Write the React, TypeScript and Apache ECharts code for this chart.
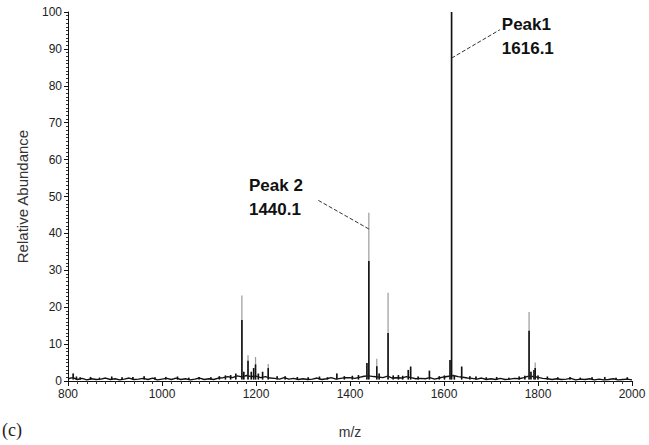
import React, { useEffect, useRef } from "react";
import * as echarts from "echarts";

// m/z grid of the baseline noise (step 10) and its values
const noiseStart = 800;
const noiseStep = 10;
const noiseValues = [
  0.6, 0.9, 0.4, 0.7, 0.3, 0.6, 0.4, 0.5, 0.8, 0.4,
  0.6, 0.3, 0.5, 0.8, 0.4, 0.5, 0.7, 0.4, 0.8, 0.3,
  0.5, 0.7, 0.4, 0.8, 0.4, 0.6, 0.3, 0.5, 0.8, 0.4,
  0.6, 0.4, 0.8, 0.9, 1.2, 0.9, 1.4, 1.1, 1.5, 1.2,
  1.3, 0.9, 1.2, 0.8, 0.7, 0.5, 0.9, 0.5, 0.7, 0.4,
  0.6, 0.4, 0.5, 0.8, 0.4, 0.6, 0.9, 0.5, 0.7, 0.9,
  0.9, 0.7, 1.0, 1.3, 1.4, 1.2, 1.1, 0.9, 1.3, 0.8,
  0.9, 0.8, 1.2, 0.9, 0.6, 0.7, 0.6, 0.9, 0.5, 0.8,
  1.1, 1.3, 1.5, 1.2, 1.0, 0.8, 0.7, 0.5, 0.8, 0.4,
  0.6, 0.4, 0.7, 0.4, 0.5, 0.7, 0.6, 0.9, 1.3, 1.2,
  1.0, 0.7, 0.6, 0.4, 0.6, 0.4, 0.5, 0.7, 0.3, 0.5,
  0.4, 0.6, 0.3, 0.5, 0.3, 0.4, 0.6, 0.3, 0.4, 0.5, 0.3,
];

// peaks: m/z, full (grey tip) height, dark-part height
const peakMz = [
  811, 1135, 1157, 1170, 1174, 1183, 1190, 1195, 1199, 1205, 1214, 1226, 1245,
  1372, 1436, 1440.1, 1457, 1462, 1481, 1503, 1524, 1529, 1569, 1612.8, 1616.1,
  1622, 1637.6, 1655, 1781, 1785, 1791.5, 1794, 1800,
];
const peakFull = [
  2.0, 1.5, 2.0, 23.2, 2.5, 7.0, 2.5, 3.5, 6.5, 2.0, 2.5, 4.6, 1.3,
  2.0, 4.9, 45.6, 6.0, 2.0, 23.9, 1.6, 3.0, 3.9, 2.8, 5.7, 100,
  1.5, 3.9, 1.3, 18.7, 2.5, 3.0, 5.0, 1.5,
];
const peakDark = [
  2.0, 1.5, 2.0, 16.5, 2.5, 5.5, 2.5, 3.5, 4.5, 2.0, 2.5, 3.5, 1.3,
  2.0, 4.9, 32.5, 4.0, 2.0, 13.0, 1.6, 3.0, 3.9, 2.8, 5.7, 100,
  1.5, 3.9, 1.3, 13.6, 2.5, 3.0, 3.5, 1.5,
];

// small noise spikes on the baseline: m/z and height
const spikeMz = [
  818, 826, 848, 867, 893, 915, 938, 962, 985, 1008, 1033, 1057, 1079, 1104,
  1122, 1146, 1262, 1288, 1311, 1335, 1352, 1388, 1405, 1418, 1492, 1512,
  1545, 1590, 1601, 1668, 1690, 1712, 1738, 1760, 1772, 1820, 1842, 1868,
  1890, 1915, 1942, 1966, 1990,
];
const spikeH = [
  1.2, 1.0, 1.1, 0.9, 1.2, 1.0, 1.1, 1.3, 1.0, 1.1, 1.2, 0.9, 1.1, 1.0,
  1.3, 1.6, 1.3, 1.1, 1.0, 1.2, 1.0, 1.3, 1.4, 1.6, 1.5, 1.4,
  1.2, 1.3, 1.5, 1.2, 1.0, 1.1, 0.9, 1.2, 1.4, 1.2, 1.0, 1.1,
  0.9, 1.0, 1.1, 0.9, 1.0,
];

const xTicks = [800, 1000, 1200, 1400, 1600, 1800, 2000];
const yTicks = [0, 10, 20, 30, 40, 50, 60, 70, 80, 90, 100];

const FONT = "Arial";

export default function App() {
  const ref = useRef<HTMLDivElement>(null);
  useEffect(() => {
    document.body.style.margin = "0";
    if (!ref.current) return;
    const chart = echarts.init(ref.current, null, { renderer: "svg" });
    const baseline = noiseValues.map((v, i) => [noiseStart + i * noiseStep, v]);
    const sticks = peakMz.map((m, i) => [m, peakFull[i], peakDark[i]]);
    const spikes = spikeMz.map((m, i) => [m, spikeH[i], spikeH[i]]);

    const renderStick = (params: any, api: any) => {
      const x = api.value(0);
      const base = api.coord([x, 0.4]);
      const full = api.coord([x, api.value(1)]);
      const dark = api.coord([x, api.value(2)]);
      return {
        type: "group",
        children: [
          {
            type: "line",
            shape: { x1: base[0], y1: base[1], x2: full[0], y2: full[1] },
            style: { stroke: "#9a9a9a", lineWidth: 1.2 },
          },
          {
            type: "line",
            shape: { x1: base[0], y1: base[1], x2: dark[0], y2: dark[1] },
            style: { stroke: "#111", lineWidth: 1.6 },
          },
        ],
      };
    };

    chart.setOption({
      animation: false,
      backgroundColor: "#fff",
      grid: { left: 68, right: 17, top: 12, bottom: 64 },
      xAxis: {
        type: "value",
        min: xTicks[0],
        max: xTicks[xTicks.length - 1],
        interval: 200,
        name: "m/z",
        nameLocation: "middle",
        nameGap: 44,
        nameTextStyle: { fontFamily: FONT, fontSize: 14, color: "#333" },
        axisLine: { lineStyle: { color: "#111", width: 1 } },
        axisTick: { length: 5, lineStyle: { color: "#111" } },
        minorTick: { show: true, splitNumber: 10, length: 3, lineStyle: { color: "#333" } },
        axisLabel: {
          fontFamily: FONT,
          fontSize: 12,
          color: "#222",
          margin: 7,
          formatter: (v: number) => String(v),
        },
        splitLine: { show: false },
      },
      yAxis: {
        type: "value",
        min: yTicks[0],
        max: yTicks[yTicks.length - 1],
        interval: 10,
        name: "Relative Abundance",
        nameLocation: "middle",
        nameGap: 38,
        nameRotate: 90,
        nameTextStyle: { fontFamily: FONT, fontSize: 15, color: "#333" },
        axisLine: { show: true, lineStyle: { color: "#111", width: 1 } },
        axisTick: { show: true, length: 4, lineStyle: { color: "#111" } },
        minorTick: { show: true, splitNumber: 10, length: 2, lineStyle: { color: "#333" } },
        axisLabel: {
          fontFamily: FONT,
          fontSize: 12,
          color: "#222",
          margin: 6,
          formatter: (v: number) => String(v),
        },
        splitLine: { show: false },
      },
      series: [
        {
          type: "custom",
          data: sticks,
          encode: { x: 0, y: 1 },
          z: 3,
          renderItem: renderStick,
        },
        {
          type: "custom",
          data: spikes,
          encode: { x: 0, y: 1 },
          z: 2,
          renderItem: renderStick,
        },
        {
          type: "line",
          data: baseline,
          symbol: "none",
          z: 2,
          lineStyle: { color: "#111", width: 1.4 },
          markLine: {
            silent: true,
            symbol: ["none", "none"],
            label: { show: false },
            lineStyle: { type: "dashed", color: "#333", width: 1 },
            data: [
              [{ coord: [1616.1, 87.5] }, { coord: [1719, 95.2] }],
              [{ coord: [1440.1, 41.2] }, { coord: [1332, 49] }],
            ],
          },
          markPoint: {
            silent: true,
            symbol: "circle",
            symbolSize: 0,
            label: {
              show: true,
              position: "right",
              distance: 0,
              fontFamily: FONT,
              fontSize: 17,
              fontWeight: "bold",
              lineHeight: 24,
              color: "#111",
            },
            data: [
              { coord: [1723, 93.3], label: { formatter: "Peak1\n1616.1" } },
              { coord: [1185, 49.7], label: { formatter: "Peak 2\n1440.1" } },
            ],
          },
        },
      ],
      graphic: [
        {
          type: "text",
          left: 2,
          top: 421,
          style: { text: "(c)", fontFamily: "'Liberation Serif', serif", fontSize: 18, fill: "#222" },
        },
      ],
    });
    return () => chart.dispose();
  }, []);
  return <div ref={ref} style={{ width: 649, height: 445 }} />;
}
